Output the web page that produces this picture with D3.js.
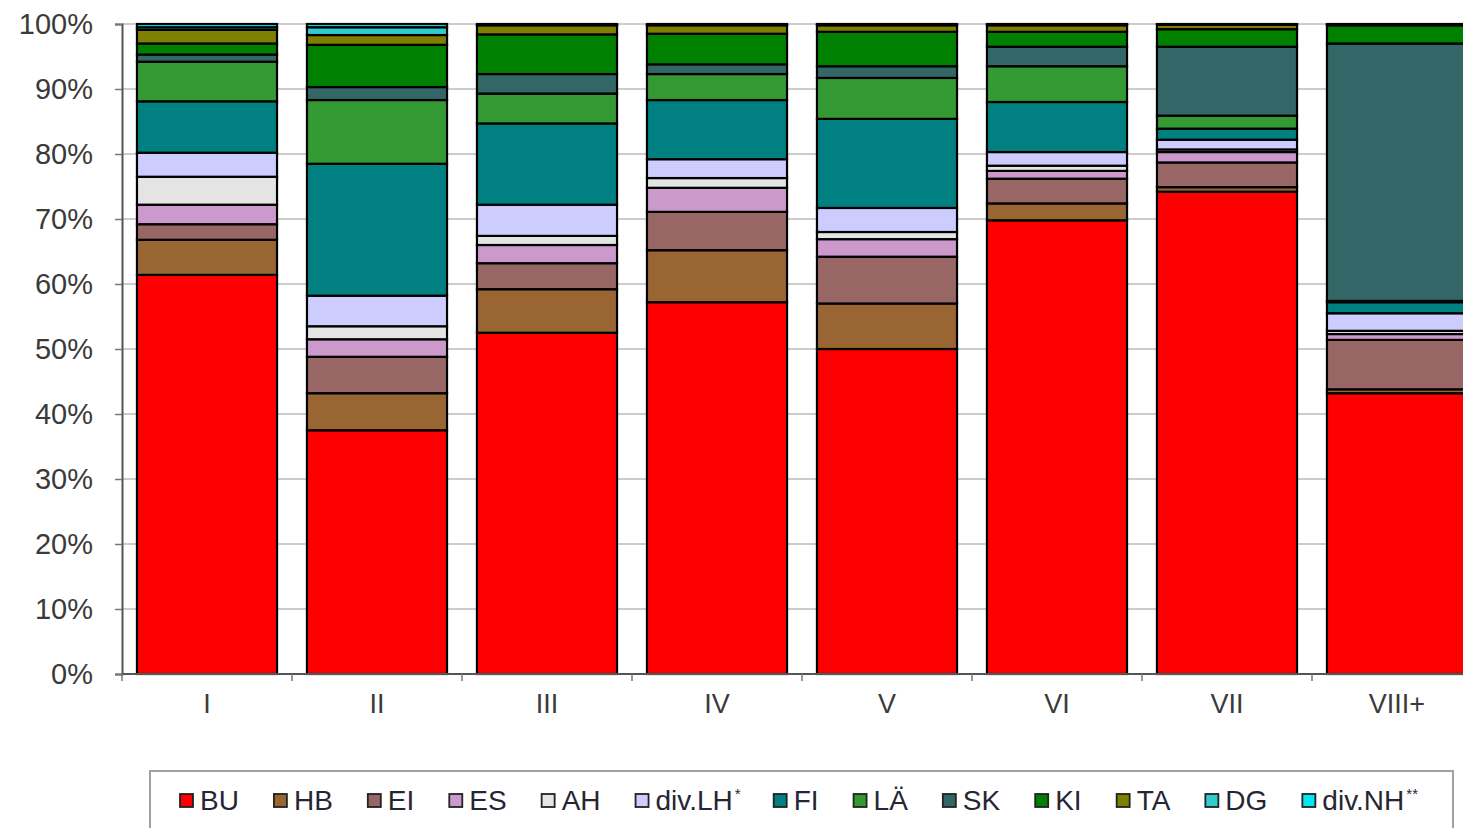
<!DOCTYPE html>
<html lang="de">
<head>
    <meta charset="UTF-8">
    <title>Baumartenanteile</title>
    <style>
        body { margin: 0; background: #fff; }
        svg { display: block; font-family: "Liberation Sans", Arial, sans-serif; }
        .grid line { stroke: #9a9a9a; stroke-width: 1.2px; }
        .seg { stroke: #000; stroke-width: 2.2px; }
        .axis-label { fill: #3a3a3a; }
        .legend text { fill: #262633; font-size: 28px; }
    </style>
</head>
<body>
    <svg id="chart" width="1463" height="828"></svg>

    <script src="https://d3js.org/d3.v7.min.js"></script>
    <script>
        // Kategorien (x-Achse)
        const categories = ["I", "II", "III", "IV", "V", "VI", "VII", "VIII+"];
        const species = ["BU", "HB", "EI", "ES", "AH", "div.LH", "FI", "LÄ", "SK", "KI", "TA", "DG", "div.NH"];
        const yTicks = [0, 10, 20, 30, 40, 50, 60, 70, 80, 90, 100];

        // Anteile in % je Baumart, Reihenfolge wie categories
        const BU    = [61.4, 37.5, 52.5, 57.2, 50.0, 69.8, 74.2, 43.2];
        const HB    = [5.4, 5.7, 6.7, 8.0, 7.0, 2.6, 0.7, 0.6];
        const EI    = [2.4, 5.6, 4.0, 5.9, 7.2, 3.8, 3.8, 7.6];
        const ES    = [3.0, 2.7, 2.8, 3.7, 2.7, 1.2, 1.6, 0.9];
        const AH    = [4.3, 2.0, 1.4, 1.5, 1.1, 0.8, 0.4, 0.5];
        const divLH = [3.7, 4.7, 4.8, 2.9, 3.7, 2.1, 1.5, 2.7];
        const FI    = [7.9, 20.3, 12.5, 9.1, 13.7, 7.7, 1.7, 1.7];
        const LAE   = [6.1, 9.8, 4.6, 4.0, 6.3, 5.5, 2.0, 0.2];
        const SK    = [1.1, 2.0, 3.0, 1.5, 1.8, 3.0, 10.6, 39.6];
        const KI    = [1.7, 6.5, 6.1, 4.7, 5.3, 2.3, 2.7, 2.8];
        const TA    = [2.1, 1.5, 1.4, 1.3, 1.0, 1.0, 0.7, 0.1];
        const DG    = [0.4, 1.2, 0.1, 0.1, 0.1, 0.1, 0.05, 0.05];
        const divNH = [0.5, 0.5, 0.1, 0.1, 0.1, 0.1, 0.05, 0.05];

        const colors = ["#ff0000", "#996633", "#996666", "#cc99cc", "#e4e4e4", "#ccccff",
                        "#008080", "#339933", "#336666", "#008000", "#808000", "#33cccc", "#00e8f0"];

        const series = [BU, HB, EI, ES, AH, divLH, FI, LAE, SK, KI, TA, DG, divNH];

        // Tabelle fuer d3.stack bauen
        const table = categories.map((c, i) => {
            const row = { cat: c };
            species.forEach((s, j) => row[s] = series[j][i]);
            return row;
        });

        const svg = d3.select("#chart");
        const marginLeft = 122, plotTop = 24, plotBottom = 674;

        const x = d3.scaleBand()
            .domain(categories)
            .range([marginLeft, marginLeft + 170 * categories.length])
            .paddingInner(0.176)
            .paddingOuter(0.088);

        const y = d3.scaleLinear().domain([0, 100]).range([plotBottom, plotTop]);

        // Gitterlinien
        svg.append("g").attr("class", "grid")
            .selectAll("line")
            .data(yTicks.filter(d => d > 0))
            .join("line")
            .attr("x1", marginLeft).attr("x2", 1463)
            .attr("y1", d => y(d)).attr("y2", d => y(d));

        const stacked = d3.stack().keys(species)(table);

        svg.append("g")
            .selectAll("g")
            .data(stacked)
            .join("g")
            .attr("fill", (d, i) => colors[i])
            .selectAll("rect")
            .data(d => d)
            .join("rect")
            .attr("class", "seg")
            .attr("x", d => x(d.data.cat))
            .attr("width", x.bandwidth())
            .attr("y", d => y(d[1]))
            .attr("height", d => y(d[0]) - y(d[1]));

        // y-Achse
        const yAxis = svg.append("g")
            .attr("transform", `translate(${marginLeft},0)`)
            .call(d3.axisLeft(y).tickValues(yTicks).tickFormat(d => d + "%").tickSize(7).tickPadding(22));
        yAxis.attr("font-size", 29).attr("font-family", null);
        yAxis.select(".domain").attr("stroke", "#555").attr("stroke-width", 2);
        yAxis.selectAll(".tick line").attr("stroke", "#777").attr("stroke-width", 1.5);
        yAxis.selectAll(".tick text").attr("class", "axis-label").attr("fill", null);

        // x-Achse
        const xAxis = svg.append("g").attr("transform", `translate(0,${plotBottom})`);
        xAxis.append("line")
            .attr("x1", marginLeft).attr("x2", 1463)
            .attr("stroke", "#555").attr("stroke-width", 2);
        xAxis.selectAll(".xt")
            .data(d3.range(categories.length + 1))
            .join("line")
            .attr("class", "xt")
            .attr("x1", i => marginLeft + x.step() * i).attr("x2", i => marginLeft + x.step() * i)
            .attr("y1", 0).attr("y2", 7)
            .attr("stroke", "#777").attr("stroke-width", 1.5);
        xAxis.selectAll(".xl")
            .data(categories)
            .join("text")
            .attr("class", "axis-label xl")
            .attr("x", d => x(d) + x.bandwidth() / 2)
            .attr("y", 39)
            .attr("font-size", 27)
            .attr("text-anchor", "middle")
            .text(d => d);

        // Legende
        const legend = svg.append("g").attr("class", "legend");
        legend.append("rect")
            .attr("x", 150).attr("y", 771)
            .attr("width", 1303).attr("height", 70)
            .attr("fill", "#fff").attr("stroke", "#a0a0a0").attr("stroke-width", 2);

        let lx = 180;
        species.forEach((s, i) => {
            const item = legend.append("g").attr("transform", `translate(${lx},0)`);
            item.append("rect")
                .attr("x", 0).attr("y", 794)
                .attr("width", 13).attr("height", 13)
                .attr("fill", colors[i]).attr("stroke", "#222").attr("stroke-width", 1.8);
            const t = item.append("text").attr("x", 20).attr("y", 810);
            if (s.startsWith("div.")) {
                t.append("tspan").text(s);
                t.append("tspan").attr("font-size", 15).attr("dx", 2).attr("dy", -11).text(s === "div.LH" ? "*" : "**");
            } else {
                t.text(s);
            }
            lx += 20 + t.node().getComputedTextLength() + 35;
        });
    </script>
</body>
</html>
